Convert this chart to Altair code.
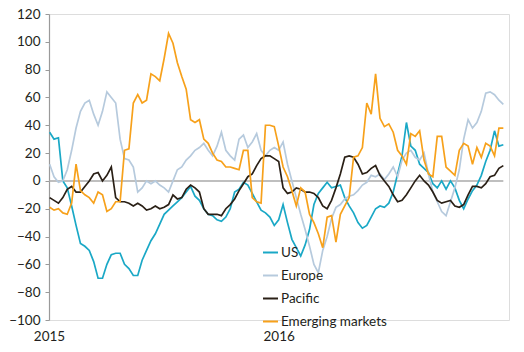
import altair as alt
import pandas as pd

# Weekly observations, Jan 2015 - Dec 2016
dates = pd.date_range("2015-01-02", periods=104, freq="7D").strftime("%Y-%m-%d").tolist()
series_names = ["US", "Europe", "Pacific", "Emerging markets"]
series_colors = ["#1aa8c6", "#b6cadd", "#2a2016", "#f7a11b"]
year_ticks = [2015, 2016]
y_ticks = list(range(-100, 121, 20))

us = [35, 30, 31, 0, -5, -18, -32, -45, -47, -50, -58, -70, -70, -60, -53, -52, -52, -60, -63, -68,
      -68, -57, -50, -43, -38, -31, -24,
      -21, -18, -15, -12, -8, -4, -11, -14, -20, -24, -25, -28, -29, -26, -20, -8, -6, -1, -3, -9,
      -15, -21, -23, -26, -32, -28,
      -17, -30, -42, -48, -54, -46, -35, -17, -9, -5, -1, -5, -4, -3, -12, -18, -23, -30, -34, -32,
      -26, -20, -18, -19, -16, -8,
      5, 18, 42, 25, 22, 12, 9, 6, -2, -5, 0, -6, 0, -5, -14, -20, -13, -7, -3, 4, 14, 22, 36, 25, 26]

europe = [12, 3, -1, 0, 8, 22, 38, 50, 56, 58, 48, 40, 50, 64, 60, 56, 30, 16, 15, 10, -8, -5, 0, -2,
          0, -3, -5,
          -8, 0, 8, 10, 15, 18, 22, 24, 27, 22, 18, 25, 35, 22, 18, 15, 30, 33, 24, 28, 34, 22, 18,
          22, 24, 22,
          28, 12, 0, -12, -24, -35, -47, -60, -66, -50, -40, -27, -19, -17, -13, -11, -10, -7, -3, -1,
          4, 3, 5, 1, 5, 10,
          3, 15, 20, 22, 17, 15, 20, 5, -8, -15, -22, -25, -15, -5, 8, 30, 44, 38, 42, 50, 63, 64, 62,
          58, 55]

pacific = [-12, -14, -16, -12, -6, -4, -8, -8, -4, 0, 5, 6, 0, 4, 10, -12, -15, -15, -16, -18, -16,
           -18, -21, -20, -18, -20, -19,
           -17, -10, -13, -12, -6, -3, -5, -8, -20, -24, -24, -24, -25, -20, -17, -13, -7, -2, 3, 5,
           11, 16, 18, 18, 16, 14,
           -5, -9, -8, -5, -6, -8, -8, -9, -12, -18, -20, -14, -5, 5, 17, 18, 17, 12, 5, 6, 9, 11, 4,
           0, -4, -10,
           -15, -14, -10, -5, 0, 4, 0, -3, -8, -14, -16, -15, -14, -18, -19, -17, -10, -4, -4, -5, -2,
           3, 4, 9, 11]

emerging = [-19, -21, -20, -23, -24, -16, 12, -7, -10, -12, -16, -8, -10, -22, -20, -15, -15, 22, 23,
            56, 62, 56, 58, 77, 75, 72, 88,
            106, 99, 85, 75, 66, 44, 42, 44, 30, 27, 20, 15, 14, 10, 10, 9, 8, 22, 22, -12, -15, -16,
            40, 40, 39, 25,
            10, 3, -7, -18, -5, -8, -24, -30, -38, -48, -26, -25, -44, -24, -18, -12, 17, 18, 24, 56,
            48, 77, 45, 39, 41, 35,
            22, 18, 12, 34, 32, 36, 15, 5, 3, 32, 32, 10, 7, 4, 22, 27, 25, 12, 24, 17, 27, 25, 18, 38,
            38]

rows = []
for name, vals in zip(series_names, [us, europe, pacific, emerging]):
    for d, v in zip(dates, vals):
        rows.append({"date": d, "series": name, "value": v})
df = pd.DataFrame(rows)

FONT = "Lato"
TEXT = "#231f20"

x_scale = alt.Scale(
    type="utc",
    domain=[alt.DateTime(year=2015, month=1, date=1, utc=True),
            alt.DateTime(year=2017, month=1, date=1, utc=True)],
)
y_scale = alt.Scale(domain=[-100, 120], nice=False)

x_axis = alt.Axis(values=[alt.DateTime(year=y, month=1, date=1, utc=True) for y in year_ticks],
                  format="%Y", formatType="utc", labelFlush=False, domain=False, ticks=False,
                  grid=False, labelFont=FONT, labelFontSize=13.5, labelColor=TEXT,
                  labelPadding=9, labelOverlap=False)
y_axis = alt.Axis(values=y_ticks, grid=False, domainColor="#9a9a9a", tickColor="#9a9a9a",
                  tickSize=4, labelPadding=5, labelFont=FONT, labelFontSize=13.5,
                  labelColor=TEXT, domainWidth=1.2, labelOverlap=False, labelBound=False)

lines = alt.Chart(df).mark_line(strokeWidth=1.7).encode(
    x=alt.X("date:T", scale=x_scale, title=None, axis=x_axis),
    y=alt.Y("value:Q", scale=y_scale, title=None, axis=y_axis),
    color=alt.Color("series:N", sort=series_names,
                    scale=alt.Scale(domain=series_names, range=series_colors),
                    legend=alt.Legend(orient="none", legendX=213, legendY=230, title=None,
                                      symbolType="stroke", symbolSize=225, symbolStrokeWidth=2,
                                      labelFont=FONT, labelFontSize=13.5, labelColor=TEXT,
                                      rowPadding=8, labelOffset=2)),
    order=alt.Order("date:T"),
)

zero = alt.Chart(pd.DataFrame({"start": ["2015-01-01"], "end": [dates[-1]], "v": [0]})).mark_rule(
    color="#aaaaaa", strokeWidth=1.5
).encode(
    x=alt.X("start:T", scale=x_scale, title=None, axis=x_axis),
    x2="end:T",
    y=alt.Y("v:Q", scale=y_scale, title=None, axis=y_axis),
)

chart = alt.layer(zero, lines).properties(
    width=460, height=306,
    autosize=alt.AutoSizeParams(type="none"),
    padding={"left": 49, "top": 14, "right": 15, "bottom": 32},
).configure_view(stroke=None).configure(background="white")

chart.save("out.html", embed_options={"renderer": "svg", "actions": False})
